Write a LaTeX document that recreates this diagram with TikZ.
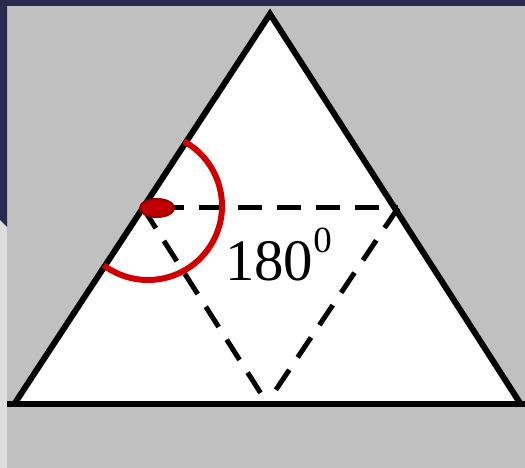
\documentclass[tikz,border=0pt]{standalone}
\usepackage{fontspec}
\setmainfont{Liberation Serif}
\usetikzlibrary{shapes.geometric}
\definecolor{navy}{HTML}{282A50}
\definecolor{bggray}{HTML}{C0C0C0}
\definecolor{stripgray}{HTML}{DEDEDE}
\definecolor{arcred}{HTML}{D00000}
\definecolor{dotred}{HTML}{C00000}
\definecolor{dotedge}{HTML}{900000}
\tikzset{
  side/.style={line width=6bp, line join=miter},
  dash line/.style={line width=5bp, dash pattern=on 24bp off 15bp},
}
\begin{document}
\begin{tikzpicture}[x=1bp,y=-1bp]
\useasboundingbox (0,0) rectangle (525,468);
% backgrounds
\fill[stripgray] (0,0) rectangle (7,468);
\fill[bggray] (7,6) rectangle (525,468);
\fill[navy] (0,0) -- (525,0) -- (525,6) -- (7,6) -- (7,227) -- (0,220) -- cycle;
% triangle
\coordinate (A) at (270,14);
\coordinate (B) at (15,403);
\coordinate (C) at (520,403);
\coordinate (L) at (143,208);
\coordinate (R) at (398,208);
\coordinate (M) at (267,403);
\fill[white] (A) -- (B) -- (C) -- cycle;
\draw[side] (B) -- (A) -- (C);
\draw[line width=6bp] (7,404) -- (525,404);
% dashed inner triangle
\draw[dash line] (160,208) -- (R);
\draw[dash line] (L) -- (M);
\draw[dash line] (R) -- (M);
% red arc
\coordinate (O) at (148,206);
\draw[arcred, line width=6bp] ([shift={(-61:74)}]O) arc[start angle=-61, end angle=127, radius=74];
% red dot
\node[ellipse, fill=dotred, draw=dotedge, line width=2bp, minimum width=34bp, minimum height=18bp, inner sep=0pt] (dot) at (157,208) {};
% label
\node[anchor=base west, inner sep=0pt] (lbl) at (225,280) {\fontsize{59}{60}\selectfont 180\raisebox{27bp}{\fontsize{37}{37}\selectfont 0}};
\end{tikzpicture}
\end{document}
